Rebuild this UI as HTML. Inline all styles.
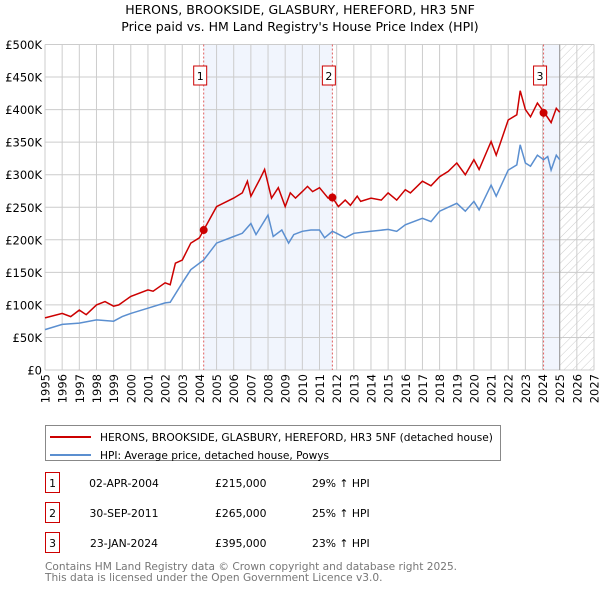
<!DOCTYPE html>
<html><head><meta charset="utf-8"><style>
body{margin:0;background:#fff;font-family:"Liberation Sans","DejaVu Sans",sans-serif;}
svg text{font-family:"DejaVu Sans","Liberation Sans",sans-serif;}
</style></head><body>
<svg width="600" height="590" viewBox="0 0 600 590" xmlns="http://www.w3.org/2000/svg">
<defs><pattern id="hatch" width="6" height="6" patternUnits="userSpaceOnUse" patternTransform="rotate(45)"><line x1="0" y1="0" x2="0" y2="6" stroke="#ccc" stroke-width="1"/></pattern></defs>
<text x="300" y="14" text-anchor="middle" font-size="12.5" fill="#000">HERONS, BROOKSIDE, GLASBURY, HEREFORD, HR3 5NF</text>
<text x="300" y="31" text-anchor="middle" font-size="12.5" fill="#000">Price paid vs. HM Land Registry's House Price Index (HPI)</text>
<g id="plot"></g>
<g>
<rect x="45.5" y="425.5" width="455" height="35" fill="#fff" stroke="#888"/>
<line x1="50" y1="437" x2="91" y2="437" stroke="#cc0000" stroke-width="2"/>
<text x="100" y="441" font-size="10.6">HERONS, BROOKSIDE, GLASBURY, HEREFORD, HR3 5NF (detached house)</text>
<line x1="50" y1="455" x2="91" y2="455" stroke="#5b8fd0" stroke-width="2"/>
<text x="100" y="459" font-size="10.6">HPI: Average price, detached house, Powys</text>
</g>
<g id="table" font-size="10.8"></g>
<text x="45" y="570" font-size="10.6" fill="#777">Contains HM Land Registry data © Crown copyright and database right 2025.</text>
<text x="45" y="581" font-size="10.6" fill="#777">This data is licensed under the Open Government Licence v3.0.</text>
</svg>
<script>
const yearTicks=[1995,1996,1997,1998,1999,2000,2001,2002,2003,2004,2005,2006,2007,2008,2009,2010,2011,2012,2013,2014,2015,2016,2017,2018,2019,2020,2021,2022,2023,2024,2025,2026,2027];
const valueTicks=[0,50000,100000,150000,200000,250000,300000,350000,400000,450000,500000];
const valueTickLabels=["£0","£50K","£100K","£150K","£200K","£250K","£300K","£350K","£400K","£450K","£500K"];
const hpiDates=[1995,1996,1997,1998,1999,1999.5,2000,2001,2002,2002.3,2003,2003.5,2004.25,2005,2006,2006.5,2007,2007.3,2008,2008.3,2008.8,2009.2,2009.5,2010,2010.5,2011,2011.3,2011.75,2012,2012.5,2013,2014,2015,2015.5,2016,2017,2017.5,2018,2019,2019.5,2020,2020.3,2021,2021.3,2022,2022.5,2022.7,2023,2023.3,2023.7,2024.06,2024.3,2024.5,2024.8,2025];
const hpiValues=[62,70,72,77,75,82,87,95,103,104,134,154,169,195,205,210,225,208,238,205,215,195,208,213,215,215,203,213,210,203,210,213,216,213,223,233,228,244,256,244,259,246,284,267,307,315,346,318,313,330,323,328,307,330,323];
const priceDates=[1995,1996,1996.5,1997,1997.4,1998,1998.5,1999,1999.3,2000,2001,2001.3,2002,2002.3,2002.6,2003,2003.5,2004,2004.25,2005,2006,2006.5,2006.8,2007,2007.5,2007.8,2008.2,2008.6,2009,2009.3,2009.6,2010,2010.3,2010.6,2011,2011.5,2011.75,2012.1,2012.5,2012.8,2013.2,2013.4,2014,2014.6,2015,2015.5,2016,2016.3,2017,2017.5,2018,2018.5,2019,2019.5,2020,2020.3,2021,2021.3,2022,2022.5,2022.7,2023,2023.3,2023.7,2024.06,2024.5,2024.8,2025];
const priceValues=[80,87,82,92,85,100,105,98,100,113,123,121,134,131,164,169,195,203,215,251,264,272,290,267,292,308,264,280,251,272,264,274,282,274,280,264,265,251,261,253,267,259,264,261,272,261,277,272,290,283,297,305,318,300,323,308,351,330,384,392,429,400,389,410,397,380,402,396];
const saleDates=[2004.25,2011.75,2024.06];
const saleValues=[215000,265000,395000];
const saleLabels=["1","2","3"];
const saleDateText=["02-APR-2004","30-SEP-2011","23-JAN-2024"];
const salePriceText=["£215,000","£265,000","£395,000"];
const saleHpiText=["29% ↑ HPI","25% ↑ HPI","23% ↑ HPI"];

const X0=45,X1=594,Y0=370,Y1=44.5;
const xs=d=>X0+(d-1995)/(2027-1995)*(X1-X0);
const ys=v=>Y0-v/500000*(Y0-Y1);
const NS="http://www.w3.org/2000/svg";
function mk(parent,tag,attrs){const e=document.createElementNS(NS,tag);for(const k in attrs)e.setAttribute(k,attrs[k]);parent.appendChild(e);return e;}
const plot=document.getElementById('plot');
for(const [a,b] of [[saleDates[0],saleDates[1]],[saleDates[2],2025]]){
 const r=mk(plot,'rect',{x:xs(a),y:Y1,width:xs(b)-xs(a),height:Y0-Y1,fill:'#f1f5fd'});
 
 
}
const h=mk(plot,'rect',{x:xs(2025),y:Y1,width:X1-xs(2025),height:Y0-Y1,fill:'url(#hatch)'});


yearTicks.forEach(y=>{
 const l=mk(plot,'line',{x1:xs(y),x2:xs(y),y1:Y1,y2:Y0,stroke:'#ccc','stroke-width':1});
 
 
 const t=mk(plot,'text',{transform:`translate(${xs(y)+4.5},${Y0+4}) rotate(-90)`,'text-anchor':'end','font-size':'11.5'});
 t.textContent=y;
 
 
});
valueTicks.forEach((v,i)=>{
 const l=mk(plot,'line',{x1:X0,x2:X1,y1:ys(v),y2:ys(v),stroke:'#ccc','stroke-width':1});
 
 
 const t=mk(plot,'text',{x:X0-3,y:ys(v)+4.5,'text-anchor':'end','font-size':'11.5'});
 t.textContent=valueTickLabels[i];
 
 
});
const bl=mk(plot,'line',{x1:xs(2025),x2:xs(2025),y1:Y1,y2:Y0,stroke:'#999','stroke-width':1});


saleDates.forEach((d,i)=>{
 const l=mk(plot,'line',{x1:xs(d),x2:xs(d),y1:Y1,y2:Y0,stroke:'#e06060','stroke-width':1,'stroke-dasharray':'2,2'});
 
 
 const bx=xs(d)-3;
 const r=mk(plot,'rect',{x:bx-7,y:66,width:13,height:19,fill:'#fff',stroke:'#cc0000'});
 
 
 const t=mk(plot,'text',{x:bx-0.5,y:80,'text-anchor':'middle','font-size':'11'});
 t.textContent=saleLabels[i];
 
 
});
function path(dates,vals){return dates.map((d,i)=>(i?'L':'M')+xs(d).toFixed(1)+','+ys(vals[i]*1000).toFixed(1)).join('');}
const hp=mk(plot,'path',{d:path(hpiDates,hpiValues),fill:'none',stroke:'#5b8fd0','stroke-width':1.5});


const pp=mk(plot,'path',{d:path(priceDates,priceValues),fill:'none',stroke:'#cc0000','stroke-width':1.5});


saleDates.forEach((d,i)=>{
 const c=mk(plot,'circle',{cx:xs(d),cy:ys(saleValues[i]),r:4,fill:'#cc0000'});
 
 
});
const tb=document.getElementById('table');
saleLabels.forEach((s,i)=>{
 const y=483+i*30;
 const r=mk(tb,'rect',{x:45.5,y:y-10.5,width:14,height:20,fill:'#fff',stroke:'#cc0000'});
 
 
 const cols=[[52.5,s,'middle'],[124,saleDateText[i],'middle'],[215,salePriceText[i],'start'],[312,saleHpiText[i],'start']];
 cols.forEach(([x,txt,a])=>{
  const t=mk(tb,'text',{x:x,y:y+4,'text-anchor':a});
  t.textContent=txt;
  
  
 });
});
</script>
</body></html>
